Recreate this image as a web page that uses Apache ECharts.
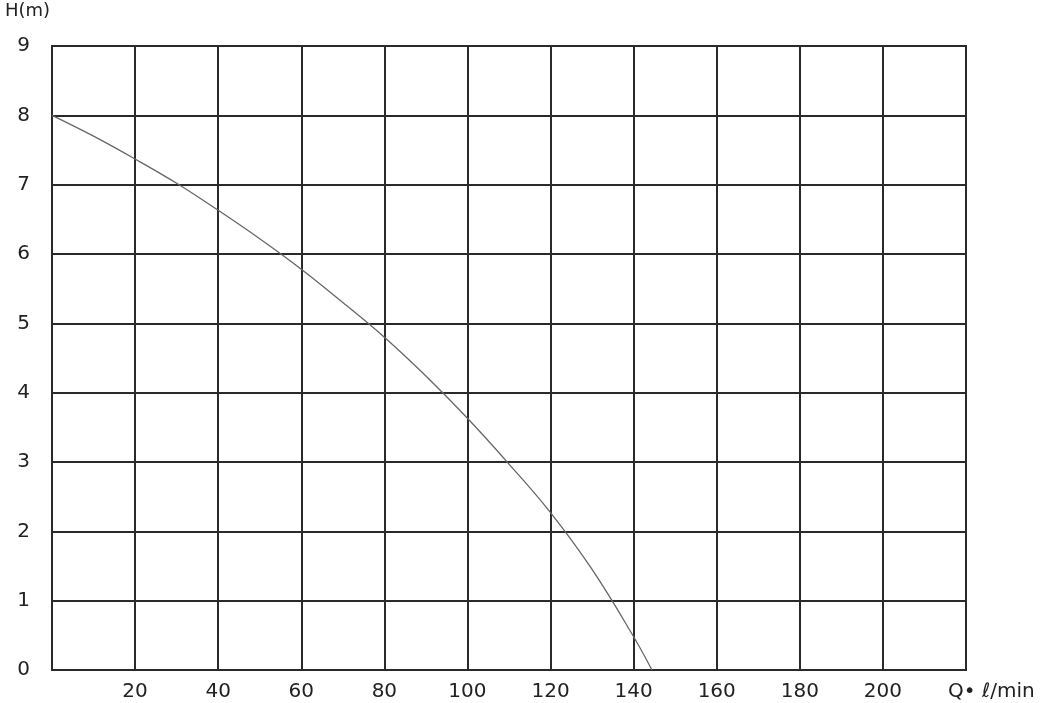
<!DOCTYPE html>
<html>
<head>
<meta charset="utf-8">
<script src="https://cdn.jsdelivr.net/npm/echarts@6/dist/echarts.min.js"></script>
<style>html,body{margin:0;padding:0;background:#fff}#c{width:1044px;height:703px}</style>
</head>
<body>
<div id="c"></div>
<script>
const flowQ = [0, 10, 20, 30, 40, 50, 60, 70, 80, 90, 100, 110, 120, 130, 140, 144.4];
const headH = [8, 7.7, 7.37, 7.02, 6.63, 6.22, 5.78, 5.3, 4.8, 4.24, 3.63, 2.97, 2.27, 1.45, 0.48, 0];
const xTickLabels = ['', '20', '40', '60', '80', '100', '120', '140', '160', '180', '200', ''];
const yTickLabels = ['0', '1', '2', '3', '4', '5', '6', '7', '8', '9'];

const chart = echarts.init(document.getElementById('c'));
const lineStyleGrid = { color: '#2a2a2a', width: 2 };
const fontFam = '"DejaVu Sans", sans-serif';
chart.setOption({
  animation: false,
  backgroundColor: '#fff',
  grid: { left: 52, right: 78, top: 46, bottom: 33, show: true, borderColor: '#2a2a2a', borderWidth: 2,
          outerBoundsMode: 'none', containLabel: false },
  xAxis: {
    type: 'value', min: 0, max: 220, interval: 20,
    name: 'Q• ℓ/min', nameLocation: 'end', nameGap: -18,
    nameTextStyle: { color: '#222', fontSize: 20, fontFamily: fontFam, align: 'left', verticalAlign: 'top', padding: [12, 0, 0, 0] },
    axisLine: { show: true, lineStyle: lineStyleGrid },
    axisTick: { show: false },
    splitLine: { show: true, lineStyle: lineStyleGrid },
    axisLabel: { color: '#222', fontSize: 20, fontFamily: fontFam, margin: 12,
      formatter: v => xTickLabels[Math.round(v / 20)] }
  },
  yAxis: {
    type: 'value', min: 0, max: 9, interval: 1,
    name: 'H(m)', nameLocation: 'end', nameGap: 35,
    nameTextStyle: { color: '#222', fontSize: 18, fontFamily: fontFam, align: 'right', verticalAlign: 'middle', padding: [0, 2, 0, 0] },
    axisLine: { show: true, lineStyle: lineStyleGrid },
    axisTick: { show: false },
    splitLine: { show: true, lineStyle: lineStyleGrid },
    axisLabel: { color: '#222', fontSize: 20, fontFamily: fontFam, margin: 22,
      formatter: v => yTickLabels[Math.round(v)] }
  },
  series: [{
    type: 'line', smooth: 0.4, symbol: 'none',
    lineStyle: { color: '#666', width: 1.3 },
    data: flowQ.map((q, i) => [q, headH[i]])
  }]
});
</script>
</body>
</html>
